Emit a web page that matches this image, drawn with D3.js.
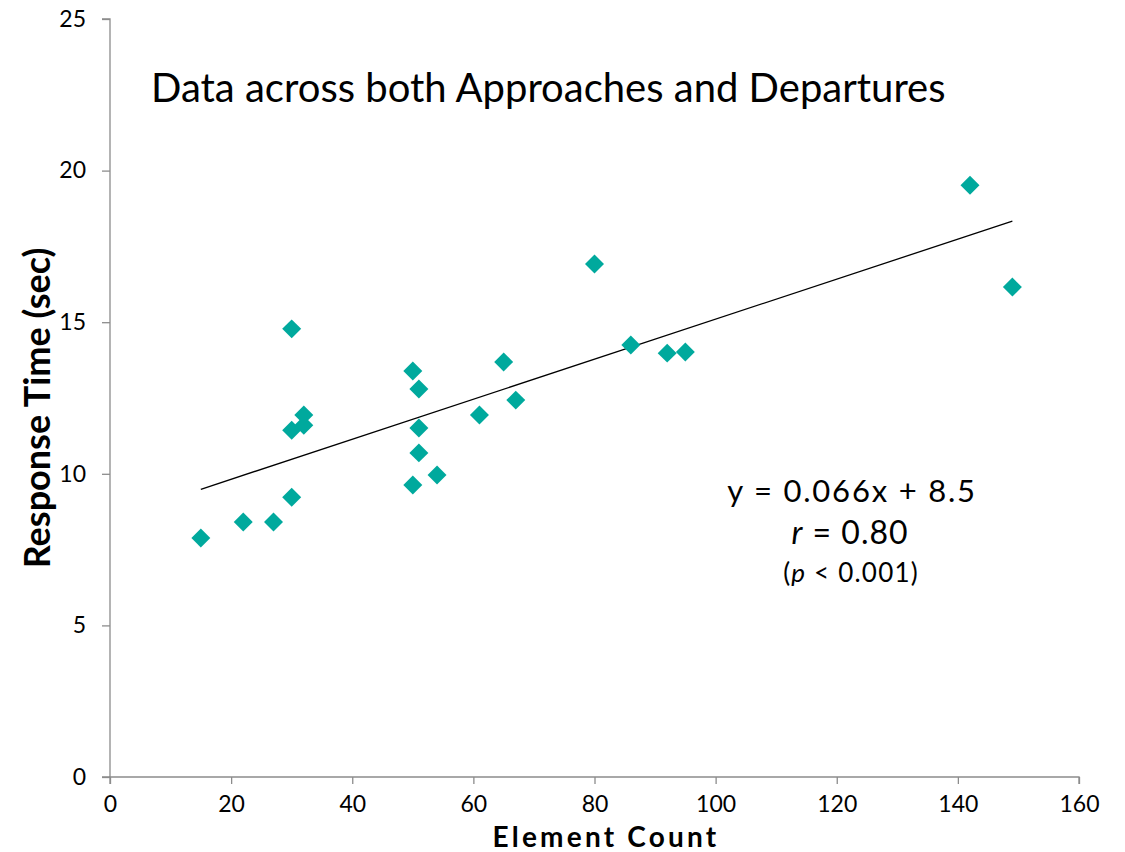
<!DOCTYPE html>
<html><head><meta charset="utf-8">
<script src="https://cdn.jsdelivr.net/npm/d3@7"></script>
<style>body{margin:0;background:#fff;} svg{display:block;}</style>
</head><body>
<script>
const elementCount = [15,22,27,30,30,30,32,32,50,50,51,51,51,54,61,65,67,80,86,92,95,142,149];
const responseTime = [7.88,8.41,8.41,9.23,11.44,14.78,11.6,11.94,13.39,9.63,12.8,11.51,10.69,9.96,11.94,13.69,12.43,16.92,14.25,13.98,14.02,19.52,16.16];
const xTicks = [0,20,40,60,80,100,120,140,160];
const yTicks = [0,5,10,15,20,25];
const fitSlope = 0.066, fitIntercept = 8.5;
const titleText = "Data across both Approaches and Departures";

const W=1125,H=852;
const svg=d3.select("body").append("svg").attr("width",W).attr("height",H);
const font="Lato, 'Open Sans', sans-serif";
const x=d3.scaleLinear().domain([0,160]).range([110,1079]);
const y=d3.scaleLinear().domain([0,25]).range([777,19]);
const axisColor="#8c8c8c";

const gx=svg.append("g").attr("transform","translate(0,777)")
  .call(d3.axisBottom(x).tickValues(xTicks).tickSize(7).tickSizeOuter(7).tickPadding(12));
const gy=svg.append("g").attr("transform","translate(110,0)")
  .call(d3.axisLeft(y).tickValues(yTicks).tickSize(8).tickSizeOuter(8).tickPadding(16));
[gx,gy].forEach(g=>{
  g.select(".domain").attr("stroke",axisColor).attr("stroke-width",1.3);
  g.selectAll(".tick line").attr("stroke",axisColor).attr("stroke-width",1.3);
  g.selectAll("text").attr("font-family",font).attr("font-size",23).attr("fill","#000");
});
gx.select(".domain").attr("d","M110,7V0H1079V7");
gy.select(".domain").attr("d","M-8,19H0V777H-8");

// trendline
const x0=d3.min(elementCount), x1=d3.max(elementCount);
svg.append("line").attr("x1",x(x0)).attr("y1",y(fitSlope*x0+fitIntercept))
  .attr("x2",x(x1)).attr("y2",y(fitSlope*x1+fitIntercept))
  .attr("stroke","#000").attr("stroke-width",1.3);

// points
const sym=d3.symbol().type(d3.symbolSquare).size(180);
svg.append("g").selectAll("path").data(elementCount).join("path")
  .attr("d",sym)
  .attr("transform",(d,i)=>`translate(${x(d)},${y(responseTime[i])}) rotate(45)`)
  .attr("fill","#00A99D");

// title
svg.append("text").attr("x",151).attr("y",102).attr("font-family",font)
  .attr("font-size",40).attr("fill","#000").text(titleText);

// axis titles
svg.append("text").attr("x",606).attr("y",847).attr("text-anchor","middle")
  .attr("font-family",font).attr("font-weight","bold").attr("font-size",28)
  .attr("letter-spacing",3.2).text("Element Count");
svg.append("text").attr("transform","translate(50,408) rotate(-90)").attr("text-anchor","middle")
  .attr("font-family",font).attr("font-weight","bold").attr("font-size",36).text("Response Time (sec)");

// annotation
svg.append("text").attr("x",852).attr("y",502).attr("text-anchor","middle")
  .attr("font-family",font).attr("font-size",31).attr("letter-spacing",1.8)
  .text(`y = ${fitSlope}x + ${fitIntercept}`);
const t2=svg.append("text").attr("x",850).attr("y",544).attr("text-anchor","middle")
  .attr("font-family",font).attr("font-size",32).attr("letter-spacing",1);
t2.append("tspan").attr("font-style","italic").text("r");
t2.append("tspan").text(" = 0.80");
const t3=svg.append("text").attr("x",851).attr("y",582).attr("text-anchor","middle")
  .attr("font-family",font).attr("font-size",26).attr("letter-spacing",1.2);
t3.append("tspan").text("(");
t3.append("tspan").attr("font-style","italic").text("p");
t3.append("tspan").text(" < 0.001)");
</script>
</body></html>
